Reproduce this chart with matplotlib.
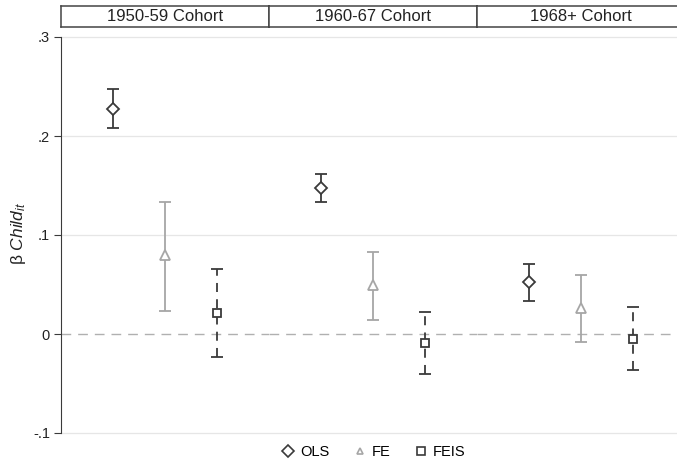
"""Coefficient plot: OLS / FE / FEIS estimates of Child_it by birth cohort."""

import matplotlib
matplotlib.use("Agg")
import matplotlib.pyplot as plt
from matplotlib.lines import Line2D

plt.rcParams["font.family"] = ["Liberation Sans", "DejaVu Sans"]
plt.rcParams["mathtext.fontset"] = "custom"
plt.rcParams["mathtext.rm"] = "Liberation Sans"
plt.rcParams["mathtext.it"] = "Liberation Sans:italic"

cohorts = ["1950-59 Cohort", "1960-67 Cohort", "1968+ Cohort"]
models = ["OLS", "FE", "FEIS"]

# point estimates per cohort, order: OLS, FE, FEIS
est = [
    [0.227, 0.080, 0.021],
    [0.147, 0.049, -0.009],
    [0.053, 0.026, -0.005],
]
ci_low = [
    [0.208, 0.023, -0.023],
    [0.133, 0.014, -0.040],
    [0.033, -0.008, -0.036],
]
ci_high = [
    [0.247, 0.133, 0.066],
    [0.162, 0.083, 0.022],
    [0.071, 0.060, 0.027],
]

yticks = [-0.1, 0, 0.1, 0.2, 0.3]
ytick_labels = ["-.1", "0", ".1", ".2", ".3"]

dark = "#3a3a3a"
light = "#a6a6a6"
styles = {
    "OLS": dict(marker="D", color=dark, ls="-", ms=6),
    "FE": dict(marker="^", color=light, ls="-", ms=7),
    "FEIS": dict(marker="s", color=dark, ls=(0, (5, 4)), ms=6),
}

W, H = 677, 466
fig = plt.figure(figsize=(W / 100, H / 100), dpi=100)

px_left, px_w = 61, 208
ax_top, ax_bot = 28, 440
hdr_top, hdr_bot = 6, 27

axes = []
for i, cohort in enumerate(cohorts):
    left = (px_left + i * px_w) / W
    ax = fig.add_axes([left, (H - ax_bot) / H, px_w / W, (ax_bot - ax_top) / H],
                      sharey=axes[0] if axes else None)
    axes.append(ax)

    for j, m in enumerate(models):
        st = styles[m]
        x = j + 1
        y = est[i][j]
        eb = ax.errorbar(x, y,
                         yerr=[[y - ci_low[i][j]], [ci_high[i][j] - y]],
                         fmt="none", ecolor=st["color"], elinewidth=1.3,
                         capsize=4, capthick=1.3, zorder=3)
        eb[2][0].set_linestyle(st["ls"])
        ax.plot(x, y, marker=st["marker"], ms=st["ms"],
                mfc="white", mec=st["color"], mew=1.3, ls="none", zorder=4)

    ax.axhline(0, color="#b0b0b0", lw=1, ls=(0, (7, 5)), zorder=2)
    for yt in [-0.1, 0.1, 0.2, 0.3]:
        ax.axhline(yt, color="#e6e6e6", lw=0.9, zorder=1)

    ax.set_xlim(0, 4)
    ax.set_xticks([])
    for s in ["top", "right", "bottom"]:
        ax.spines[s].set_visible(False)
    if i == 0:
        ax.spines["left"].set_bounds(-0.1, 0.3)
        ax.spines["left"].set_color(dark)
        ax.set_yticks(yticks)
        ax.set_yticklabels(ytick_labels, fontsize=10.5, color="#222222")
        ax.tick_params(axis="y", length=5, color=dark, pad=3)
        ax.set_ylabel(r"β $\mathit{Child}_{\mathit{it}}$", fontsize=12.5,
                      color="#222222")
        ax.yaxis.set_label_coords((28 - px_left) / px_w, 0.5)
    else:
        ax.spines["left"].set_visible(False)
        ax.tick_params(axis="y", left=False, labelleft=False)

    # cohort header strip
    hax = fig.add_axes([left, (H - hdr_bot) / H, px_w / W, (hdr_bot - hdr_top) / H])
    hax.set_xticks([])
    hax.set_yticks([])
    for s in hax.spines.values():
        s.set_color("#444444")
        s.set_linewidth(1.1)
    hax.text(0.5, 0.5, cohort, ha="center", va="center", fontsize=12,
             color="#222222", transform=hax.transAxes)

axes[0].set_ylim((ax_bot - 334) / -990, (334 - ax_top) / 990)

handles = [
    Line2D([], [], marker=styles[m]["marker"], ls="none", mfc="white",
           mec=styles[m]["color"], mew=1.2, ms=6 if m != "FE" else 5, label=m)
    for m in models
]
fig.legend(handles=handles, loc="center", ncol=3, frameon=False,
           bbox_to_anchor=(373 / W, (H - 452) / H), fontsize=10.5,
           handletextpad=0.3, columnspacing=1.6, handlelength=1.0)

fig.savefig("out.png", dpi=100)
